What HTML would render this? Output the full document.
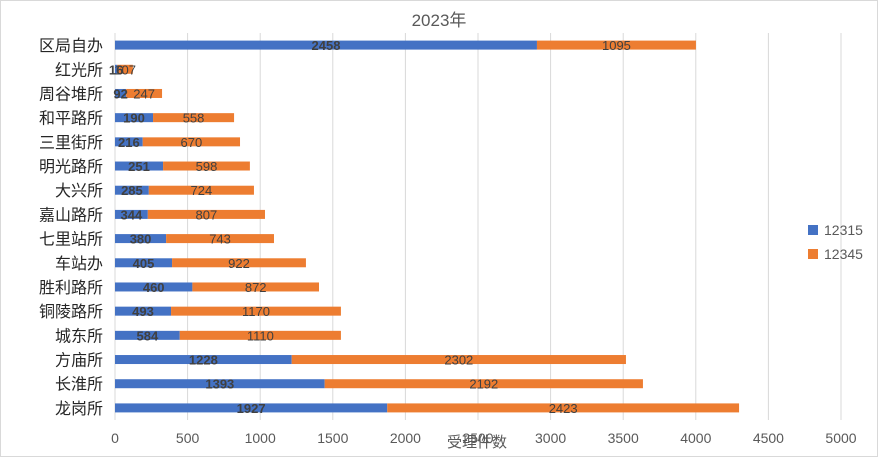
<!DOCTYPE html>
<html><head><meta charset="utf-8"><style>
body{margin:0;background:#fff;}
svg{display:block;font-family:"Liberation Sans","Noto Sans CJK SC",sans-serif;}
</style></head><body>
<svg id="chart" width="878" height="457" viewBox="0 0 878 457">
<rect x="0.5" y="0.5" width="877" height="456" fill="#fff" stroke="#d9d9d9"/>
<text x="439" y="26" text-anchor="middle" font-size="17" fill="#595959">2023年</text>
<g id="grid"></g><g id="bars"></g><g id="labels"></g>
<text x="477" y="447" text-anchor="middle" font-size="15" fill="#595959">受理件数</text>
<rect x="808" y="225" width="10" height="10" fill="#4472c4"/>
<text x="824" y="235" font-size="14" fill="#595959">12315</text>
<rect x="808" y="249" width="10" height="10" fill="#ed7d31"/>
<text x="824" y="259" font-size="14" fill="#595959">12345</text>
</svg>
<script>
const categories=["区局自办","红光所","周谷堆所","和平路所","三里街所","明光路所","大兴所","嘉山路所","七里站所","车站办","胜利路所","铜陵路所","城东所","方庙所","长淮所","龙岗所"];
const series12315=[2906,16,77,262,191,331,233,226,352,393,533,386,446,1217,1444,1875];
const series12345=[1095,107,247,558,670,598,724,807,743,922,872,1170,1110,2302,2192,2423];
const labels12315=[2458,16,92,190,216,251,285,344,380,405,460,493,584,1228,1393,1927];
const labels12345=[1095,107,247,558,670,598,724,807,743,922,872,1170,1110,2302,2192,2423];
const xTicks=[0,500,1000,1500,2000,2500,3000,3500,4000,4500,5000];
const NS="http://www.w3.org/2000/svg";
const x0=115,x1=841,xMax=5000,yTop=33,yBot=420;
const xs=v=>x0+(x1-x0)*v/xMax;
const step=(yBot-yTop)/categories.length;
const yc=i=>yTop+step*(i+0.5);
function mk(tag,attrs,parent){const e=document.createElementNS(NS,tag);for(const k in attrs)e.setAttribute(k,attrs[k]);document.getElementById(parent).appendChild(e);return e;}
xTicks.forEach(t=>{
  const l=mk('line',{x1:xs(t),x2:xs(t),y1:yTop,y2:yBot,stroke:'#d9d9d9','stroke-width':1},'grid');
  
  
  const tx=mk('text',{x:xs(t),y:443,'text-anchor':'middle','font-size':14,fill:'#595959'},'grid');
  tx.textContent=t;
  
  
});
categories.forEach((c,i)=>{
  const y=yc(i),h=9;
  const ct=mk('text',{x:103,y:y+6,'text-anchor':'end','font-size':16,fill:'#262626'},'labels');
  ct.textContent=c;
  
  
  const b=mk('rect',{x:xs(0),y:y-h/2,width:xs(series12315[i])-xs(0),height:h,fill:'#4472c4'},'bars');
  
  
  const o=mk('rect',{x:xs(series12315[i]),y:y-h/2,width:xs(series12345[i])-xs(0),height:h,fill:'#ed7d31'},'bars');
  
  
  const bl=mk('text',{x:(xs(0)+xs(series12315[i]))/2,y:y+5,'text-anchor':'middle','font-size':13,'font-weight':'bold',fill:'#404040'},'labels');
  bl.textContent=labels12315[i];
  
  
  const ol=mk('text',{x:xs(series12315[i]+series12345[i]/2),y:y+5,'text-anchor':'middle','font-size':13,fill:'#404040'},'labels');
  ol.textContent=labels12345[i];
  
  
});
</script>
</body></html>
